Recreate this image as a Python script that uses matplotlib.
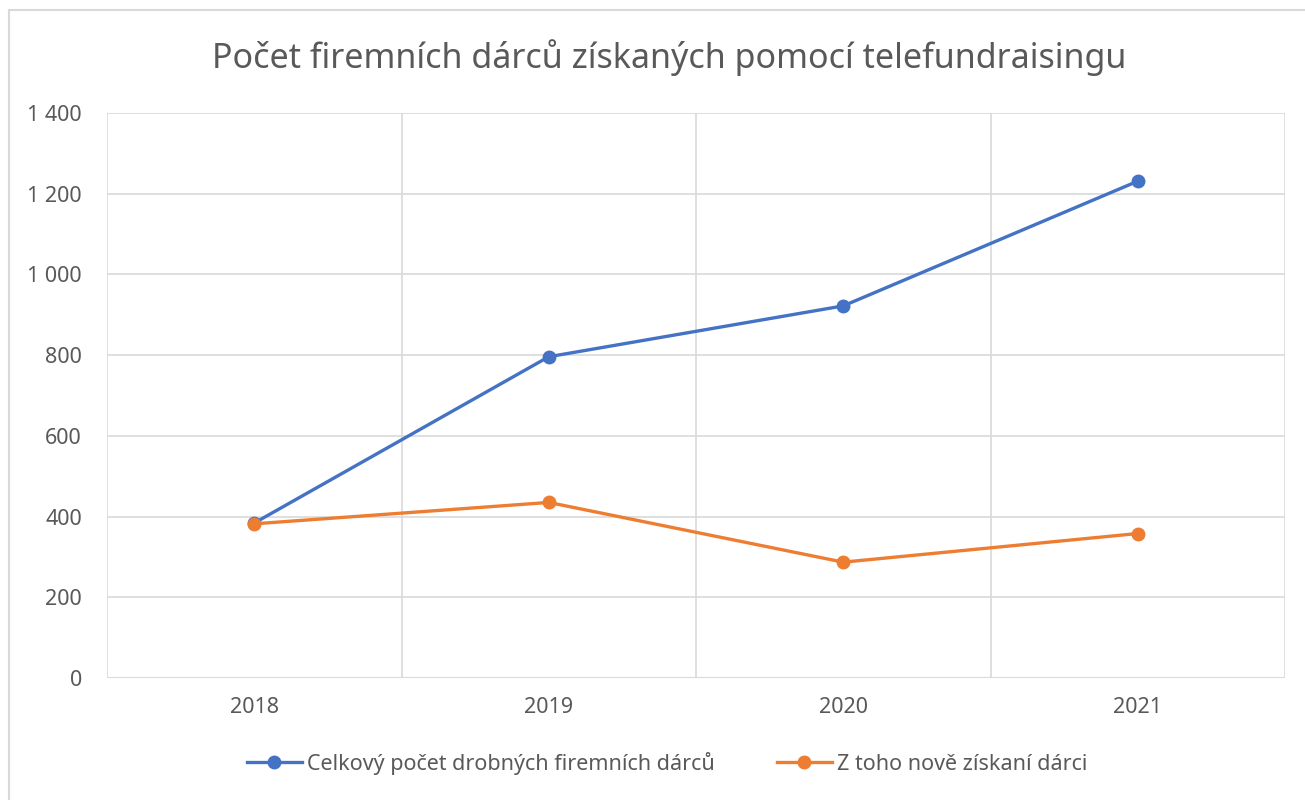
import matplotlib.pyplot as plt
from matplotlib.patches import Rectangle
from matplotlib.ticker import FuncFormatter

plt.rcParams['font.family'] = ['Noto Sans', 'DejaVu Sans']

years = ['2018', '2019', '2020', '2021']
total_donors = [384, 796, 922, 1231]
new_donors = [382, 435, 287, 358]

series_names = ['Celkový počet drobných firemních dárců', 'Z toho nově získaní dárci']
title = 'Počet firemních dárců získaných pomocí telefundraisingu'

text_color = '#595959'
grid_color = '#d9d9d9'

fig = plt.figure(figsize=(13.05, 8), dpi=100)
ax = fig.add_axes([0.082, 0.1525, 0.9027, 0.7063])

# rámeček kolem celého grafu
fig.patches.append(Rectangle((9 / 1305, -0.01), 1.02, 1 - 10 / 800 + 0.01,
                             transform=fig.transFigure, fill=False,
                             edgecolor=grid_color, linewidth=1.5))

x = range(len(years))
ax.plot(x, total_donors, color='#4472c4', lw=2.4, marker='o', ms=9,
        label=series_names[0], zorder=3)
ax.plot(x, new_donors, color='#ed7d31', lw=2.4, marker='o', ms=9,
        label=series_names[1], zorder=4)

ax.set_xlim(-0.5, len(years) - 0.5)
ax.set_ylim(0, 1400)
ax.set_yticks(range(0, 1401, 200))
ax.yaxis.set_major_formatter(FuncFormatter(lambda v, p: f'{int(v):,}'.replace(',', ' ')))
ax.set_xticks(list(x))
ax.set_xticklabels(years)

# svislé mřížky mezi kategoriemi
for b in [i - 0.5 for i in range(len(years) + 1)]:
    ax.axvline(b, color=grid_color, lw=1.2, zorder=1)
ax.yaxis.grid(True, color=grid_color, lw=1.2, zorder=1)
ax.set_axisbelow(True)

for s in ax.spines.values():
    s.set_visible(False)
ax.axhline(0, color=grid_color, lw=1.5, zorder=2)

ax.tick_params(axis='both', length=0, labelsize=15.5, colors=text_color)
ax.tick_params(axis='y', pad=18)
ax.tick_params(axis='x', pad=14)

fig.text(0.513, 0.928, title, ha='center', va='center', fontsize=24.5, color=text_color)

fig.legend(loc='center', bbox_to_anchor=(0.511, 0.046), ncol=2, frameon=False,
           fontsize=15.5, labelcolor=text_color, handlelength=2.55,
           handletextpad=0.23, columnspacing=2.9)

fig.savefig('out.png', dpi=100)
